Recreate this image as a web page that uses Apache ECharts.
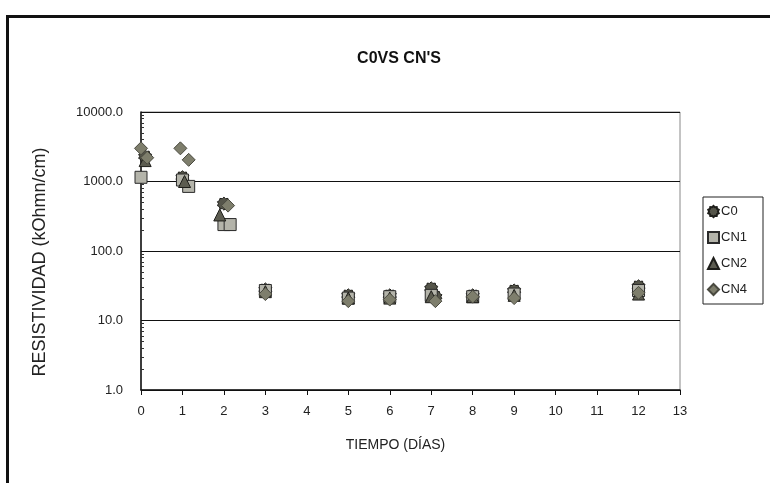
<!DOCTYPE html>
<html>
<head>
<meta charset="utf-8">
<script src="https://cdn.jsdelivr.net/npm/echarts@6/dist/echarts.min.js"></script>
<style>
  html, body { margin: 0; padding: 0; background: #fff; }
  #chart { width: 770px; height: 483px; }
</style>
</head>
<body>
<div id="chart"></div>
<script>
// datos (dias, resistividad kOhm/cm)
const c0Days = [0.1, 1, 2, 3, 5, 6, 7, 7.1, 8, 9, 12];
const c0Vals = [2300, 1150, 480, 28, 23, 23, 29, 22, 23, 27, 31];
const cn1Days = [0, 1, 1.15, 2, 2.15, 3, 5, 6, 7, 8, 9, 12];
const cn1Vals = [1150, 1050, 850, 240, 240, 27, 21, 22, 23, 22, 24, 27];
const cn2Days = [0.1, 1.05, 1.9, 3, 5, 6, 7, 8, 9, 12];
const cn2Vals = [2000, 1000, 330, 26, 21, 21, 22, 22, 23, 24];
const cn4Days = [0, 0.15, 0.95, 1.15, 2.1, 3, 5, 6, 7.1, 8, 9, 12];
const cn4Vals = [3000, 2200, 3000, 2050, 450, 24, 19, 20, 19, 22, 21, 25];
const seriesNames = ['C0', 'CN1', 'CN2', 'CN4'];
const xTicks = [0, 1, 2, 3, 4, 5, 6, 7, 8, 9, 10, 11, 12, 13];

function pairs(d, v) {
    return d.map((x, i) => [x, v[i]]);
}

// simbolo "engranaje" para C0
function gearPath() {
    let p = '';
    const n = 10;
    for (let i = 0; i < n * 2; i++) {
        const r = i % 2 === 0 ? 10 : 8;
        const a = Math.PI * i / n;
        const x = (10 + r * Math.sin(a)).toFixed(2);
        const y = (10 - r * Math.cos(a)).toFixed(2);
        p += (i === 0 ? 'M' : 'L') + x + ',' + y;
    }
    return 'path://' + p + 'Z';
}

const symbols = [gearPath(), 'rect', 'triangle', 'diamond'];
const fills = ['#55554a', '#b4b4aa', '#5c5c50', '#7e7e6c'];
const borders = ['#1e1e1a', '#2a2a2a', '#1e1e1a', '#4a4a40'];
const sizes = [13, 12, 12, 13];
const allData = [pairs(c0Days, c0Vals), pairs(cn1Days, cn1Vals), pairs(cn2Days, cn2Vals), pairs(cn4Days, cn4Vals)];

const chart = echarts.init(document.getElementById('chart'));
const option = {
    backgroundColor: '#fff',
    animation: false,
    title: {
        text: "C0VS CN'S",
        left: 394,
        top: 46,
        textAlign: 'center',
        textStyle: {
            fontFamily: '"Liberation Sans Narrow", "Liberation Sans", sans-serif',
            fontSize: 16,
            fontWeight: 'bold',
            color: '#111'
        }
    },
    graphic: [
        { type: 'rect', shape: { x: 6, y: 15, width: 780, height: 3 }, style: { fill: '#111' } },
        { type: 'rect', shape: { x: 6, y: 15, width: 3, height: 480 }, style: { fill: '#111' } }
    ],
    legend: {
        orient: 'vertical',
        left: 703,
        top: 197,
        data: seriesNames,
        borderColor: '#222',
        borderWidth: 1,
        padding: [8, 16, 8, 4],
        itemGap: 13,
        itemWidth: 11,
        itemHeight: 11,
        textStyle: {
            fontFamily: '"Liberation Sans", Arial, sans-serif',
            fontSize: 13,
            color: '#222',
            padding: [0, 0, 0, -3]
        }
    },
    grid: {
        left: 141,
        right: 90,
        top: 112,
        bottom: 93,
        show: true,
        borderColor: '#888',
        borderWidth: 1,
        backgroundColor: '#fff'
    },
    xAxis: {
        type: 'value',
        min: 0,
        max: 13,
        interval: 1,
        name: 'TIEMPO (DÍAS)',
        nameLocation: 'middle',
        nameGap: 48,
        nameTextStyle: {
            fontFamily: '"Liberation Sans", Arial, sans-serif',
            fontSize: 14,
            color: '#222',
            padding: [0, 30, 0, 0]
        },
        axisLine: { show: true, lineStyle: { color: '#111', width: 1.5 } },
        axisTick: { show: true, inside: false, length: 5, lineStyle: { color: '#111' } },
        splitLine: { show: false },
        axisLabel: {
            margin: 15,
            fontFamily: '"Liberation Sans Narrow", "Liberation Sans", sans-serif',
            fontSize: 13,
            color: '#222',
            formatter: (v) => xTicks.includes(v) ? String(v) : ''
        }
    },
    yAxis: {
        type: 'log',
        logBase: 10,
        min: 1,
        max: 10000,
        name: 'RESISTIVIDAD (kOhmn/cm)',
        nameLocation: 'middle',
        nameRotate: 90,
        nameGap: 92,
        nameTextStyle: {
            fontFamily: '"Liberation Sans", Arial, sans-serif',
            fontSize: 18,
            color: '#222',
            padding: [0, 22, 0, 0]
        },
        axisLine: { show: true, lineStyle: { color: '#111', width: 1.5 } },
        axisTick: { show: true, inside: true, length: 4, lineStyle: { color: '#111' } },
        minorTick: { show: true, splitNumber: 9, length: 3, lineStyle: { color: '#333' } },
        splitLine: { show: true, lineStyle: { color: '#111', width: 1.2 } },
        axisLabel: {
            margin: 18,
            fontFamily: '"Liberation Sans Narrow", "Liberation Sans", sans-serif',
            fontSize: 13,
            color: '#222',
            formatter: (v) => Number(v).toFixed(1)
        }
    },
    series: seriesNames.map((name, i) => ({
        name: name,
        type: 'scatter',
        symbol: symbols[i],
        symbolSize: sizes[i],
        data: allData[i],
        itemStyle: {
            color: fills[i],
            borderColor: borders[i],
            borderWidth: 1,
            opacity: 1
        }
    }))
};
chart.setOption(option);
</script>
</body>
</html>
